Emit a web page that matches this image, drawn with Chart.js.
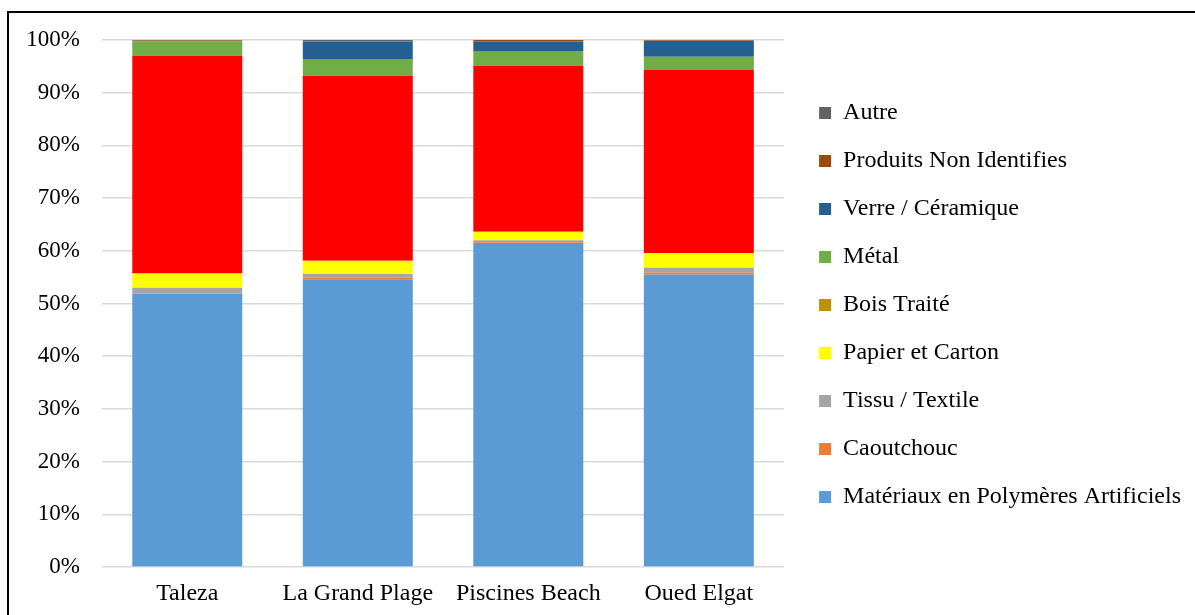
<!DOCTYPE html>
<html>
<head>
<meta charset="utf-8">
<script src="https://cdn.jsdelivr.net/npm/chart.js@4"></script>
<style>
    html, body { margin: 0; padding: 0; background: #fff; }
    #frame {
        position: absolute; left: 7px; top: 11px; width: 1200px; height: 620px;
        border-left: 2px solid #000; border-top: 2px solid #000;
    }
    #wrap { position: absolute; left: 0; top: 0; width: 1195px; height: 615px; }
</style>
</head>
<body>
<div id="frame"></div>
<div id="wrap"><canvas id="graph"></canvas></div>
<script>
const sites = ["Taleza", "La Grand Plage", "Piscines Beach", "Oued Elgat"];

// parts in % per site, bottom of the stack first
const polymeres = [51.8, 54.6, 61.5, 55.5];
const caoutchouc = [0.1, 0.3, 0.1, 0.4];
const textile = [1.1, 0.7, 0.4, 0.9];
const papier = [2.7, 2.5, 1.6, 2.8];
const bois = [0, 0, 0, 0];
const nonLegende = [41.3, 35.1, 31.5, 34.7];
const metal = [2.7, 3.2, 2.8, 2.5];
const verre = [0, 3.2, 1.8, 3.0];
const nonIdentifies = [0.2, 0.1, 0.3, 0.1];
const autre = [0.1, 0.3, 0, 0.1];

const yTicks = [0, 10, 20, 30, 40, 50, 60, 70, 80, 90, 100];

const family = "'Liberation Serif', 'Times New Roman', serif";
const font = {family: family, size: 24};
const yFont = {family: family, size: 23};

const series = [
    ["Matériaux en Polymères Artificiels", polymeres, "#5B9BD5"],
    ["Caoutchouc", caoutchouc, "#ED7D31"],
    ["Tissu / Textile", textile, "#A5A5A5"],
    ["Papier et Carton", papier, "#FFFF00"],
    ["Bois Traité", bois, "#BF9000"],
    ["", nonLegende, "#FF0000"],
    ["Métal", metal, "#70AD47"],
    ["Verre / Céramique", verre, "#255E91"],
    ["Produits Non Identifies", nonIdentifies, "#9E480E"],
    ["Autre", autre, "#636363"]
];

const data = {
    labels: sites,
    datasets: series.map(([label, values, color]) => ({
        label: label,
        data: values,
        backgroundColor: color,
        borderWidth: 0,
        categoryPercentage: 1,
        barPercentage: 0.645
    }))
};

// empty axes used only as spacers around the plot
const spacer = (position, size) => ({
    type: "linear",
    position: position,
    display: true,
    grid: {display: false, drawTicks: false},
    border: {display: false},
    ticks: {display: false},
    afterFit: axis => {
        if (axis.isHorizontal()) axis.height = size;
        else axis.width = size;
    }
});

const options = {
    animation: false,
    responsive: true,
    maintainAspectRatio: false,
    layout: {padding: {left: 0, right: 4, top: 0, bottom: 5}},
    plugins: {
        legend: {
            position: "right",
            reverse: true,
            maxWidth: 400,
            labels: {
                font: font,
                color: "#000",
                boxWidth: 12,
                boxHeight: 12,
                padding: 24,
                filter: item => item.text !== ""
            }
        },
        tooltip: {enabled: false}
    },
    scales: {
        x: {
            stacked: true,
            grid: {display: false, drawTicks: false},
            border: {display: false},
            ticks: {font: font, color: "#000", padding: 12},
            afterFit: axis => { axis.height = 43; }
        },
        y: {
            stacked: true,
            min: 0,
            max: 100,
            afterBuildTicks: axis => { axis.ticks = yTicks.map(v => ({value: v})); },
            grid: {color: "#d9d9d9", lineWidth: 1.5, drawTicks: false},
            border: {display: false},
            ticks: {font: yFont, color: "#000", padding: 22, callback: v => v + "%"},
            afterFit: axis => { axis.width = 102; }
        },
        topSpace: spacer("top", 40),
        gap: spacer("right", 11)
    }
};

new Chart(document.querySelector("#graph"), {type: "bar", data: data, options: options});
</script>
</body>
</html>
